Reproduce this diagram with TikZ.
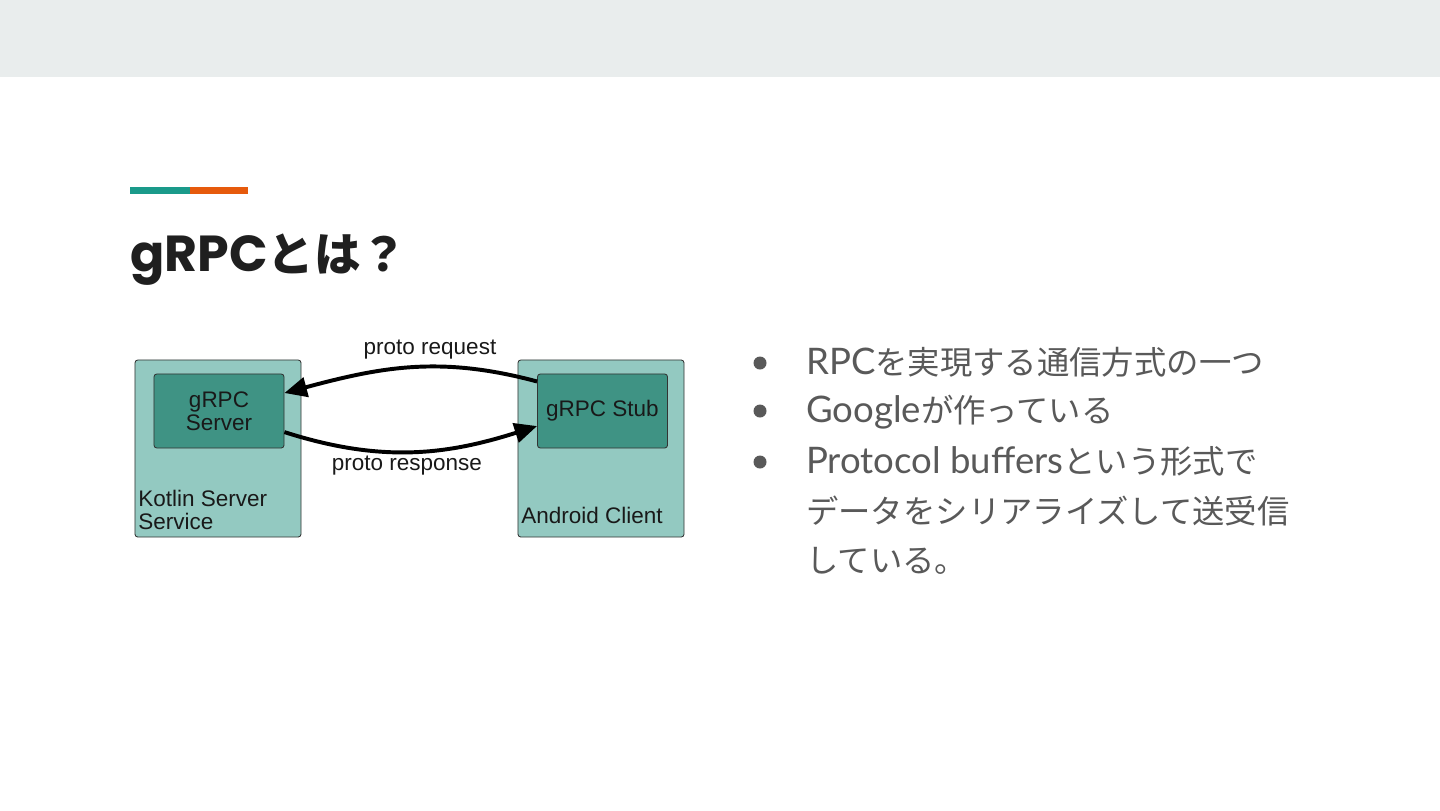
\documentclass[tikz,border=0pt]{standalone}
\usepackage{fontspec}
\setmainfont{Noto Sans CJK JP}
\newfontfamily\latofont{Lato}
\newfontfamily\poppinsfont{Poppins}
\newfontfamily\titlecjk{Noto Sans CJK JP}[Scale=0.92]
\newfontfamily\arialfont{Liberation Sans}
\usetikzlibrary{arrows.meta,positioning}
\definecolor{bandgray}{HTML}{E9EDED}
\definecolor{accteal}{HTML}{1A9A8A}
\definecolor{accorange}{HTML}{E65A0C}
\definecolor{titleblack}{HTML}{1F1F1F}
\definecolor{bodygray}{HTML}{595959}
\definecolor{outerteal}{HTML}{93C9C1}
\definecolor{innerteal}{HTML}{3F9384}
\definecolor{boxline}{HTML}{333333}
\newcommand{\lt}[1]{{\latofont\fontsize{26}{28}\selectfont #1}}
\tikzset{
  outerbox/.style={draw=boxline, fill=outerteal, rounded corners=2pt, line width=0.6pt,
    minimum width=4.15cm, minimum height=4.425cm},
  innerbox/.style={draw=boxline, fill=innerteal, rounded corners=2pt, line width=0.6pt,
    minimum width=3.25cm, minimum height=1.85cm, align=center,
    font=\arialfont\fontsize{16}{16.5}\selectfont, text=black!90},
  boxlabel/.style={inner sep=0pt, align=left, font=\arialfont\fontsize{16}{16.5}\selectfont, text=black!90},
  flow/.style={line width=2.8pt, -{Triangle[length=16pt,width=14pt]}},
  bullettext/.style={anchor=base west, inner sep=0pt, text=bodygray, font=\fontsize{23}{28}\selectfont}
}
\begin{document}
\begin{tikzpicture}[x=0.025cm,y=-0.025cm]
% page
\fill[white] (0,0) rectangle (1440,810);
\fill[bandgray] (0,0) rectangle (1440,77);
\fill[accteal] (130,187) rectangle (190,194);
\fill[accorange] (190,187) rectangle (248,194);
\node[anchor=base west, inner sep=0pt, text=titleblack] (title) at (130,271)
  {\fontsize{36}{40}\selectfont\bfseries{\poppinsfont gRPC}{\titlecjk\bfseries とは？}};

% diagram
\node[outerbox] (kotlin) at (218,448.5) {};
\node[outerbox] (android) at (601,448.5) {};
\node[innerbox] (server) at (219,411) {gRPC\\Server};
\node[innerbox] (stub) at (602.5,411) {gRPC Stub};
\node[boxlabel, anchor=south west] (kotlinlabel) at (138,530) {Kotlin Server\\Service};
\node[boxlabel, anchor=south west] (androidlabel) at (521,524) {Android Client};

\draw[flow] ([yshift=21pt]stub.west) .. controls +(-97,-26) and +(97,-26) .. ([yshift=12.8pt]server.east);
\draw[flow] ([yshift=-15pt]server.east) .. controls +(94,30) and +(-94,30) .. ([yshift=-10.7pt]stub.west);
\node[boxlabel] (req) at (430,350) {proto request};
\node[boxlabel] (resp) at (407,466) {proto response};

% bullets
\foreach \y in {363,411,462}
  \fill[bodygray] (760,\y) circle (6.5);
\node[bullettext] (b1) at (806,374) {\lt{RPC}を実現する通信方式の一つ};
\node[bullettext] (b2) at (806,422) {\lt{Google}が作っている};
\node[bullettext] (b3) at (806,473) {\lt{Protocol buffers}という形式で};
\node[bullettext] (b4) at (806,523) {データをシリアライズして送受信};
\node[bullettext] (b5) at (806,572) {している。};
\end{tikzpicture}
\end{document}
